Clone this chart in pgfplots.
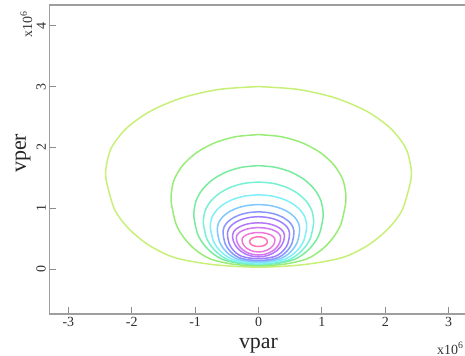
\documentclass[border=0pt]{standalone}
\usepackage{fontspec}
\setmainfont{Liberation Serif}
\usepackage{pgfplots}
\pgfplotsset{compat=1.18}

% contour colours, outermost level first
\definecolor{c1}{HTML}{C8F078}
\definecolor{c2}{HTML}{98EC78}
\definecolor{c3}{HTML}{78EC9C}
\definecolor{c4}{HTML}{78F0D4}
\definecolor{c5}{HTML}{80F0F8}
\definecolor{c6}{HTML}{80C8FF}
\definecolor{c7}{HTML}{8898FF}
\definecolor{c8}{HTML}{9C80FF}
\definecolor{c9}{HTML}{B478F8}
\definecolor{c10}{HTML}{D478F0}
\definecolor{c11}{HTML}{EC78DC}
\definecolor{c12}{HTML}{FF74B4}

\begin{document}
\begin{tikzpicture}
\begin{axis}[
  at={(49.3bp,42bp)}, anchor=south west,
  scale only axis, width=418.4bp, height=308.9bp,
  xmin=-3.3, xmax=3.3, ymin=-0.74, ymax=4.34,
  xtick={-3,-2,-1,0,1,2,3}, ytick={0,1,2,3,4},
  scaled ticks=false,
  tick pos=left, tick align=inside,
  major tick length=7bp,
  axis line style={draw=black!38, line width=1.3bp},
  every tick/.style={draw=black!45, line width=0.8bp},
  ticklabel style={font=\fontsize{14}{14}\selectfont, text=black!82},
  /pgf/number format/assume math mode=true,
  yticklabel style={rotate=90, anchor=south},
  xlabel={vpar}, ylabel={vper},
  label style={font=\fontsize{22}{22}\selectfont, text=black!85},
  xlabel style={at={(axis description cs:0.5,0)}, anchor=base, yshift=-34bp},
  ylabel style={at={(axis description cs:-0.056,0.52)}, anchor=base},
  every axis plot/.append style={line width=1.5bp, smooth, no marks},
]
% f(vpar, vper) contour levels
\addplot[c1] coordinates {(0,3.00) (-0.624,2.953) (-1.205,2.815) (-1.704,2.596) (-2.087,2.31) (-2.328,1.977) (-2.41,1.62) (-2.386,1.382) (-2.265,0.968) (-2.049,0.666) (-1.735,0.396) (-1.326,0.189) (-0.723,0.073) (0,0.03) (0.723,0.073) (1.326,0.189) (1.735,0.396) (2.049,0.666) (2.265,0.968) (2.386,1.382) (2.41,1.62) (2.328,1.977) (2.087,2.31) (1.704,2.596) (1.205,2.815) (0.624,2.953) (0,3.00)};
\addplot[c2] coordinates {(0,2.21) (-0.357,2.176) (-0.69,2.075) (-0.976,1.914) (-1.195,1.705) (-1.333,1.462) (-1.38,1.20) (-1.366,1.028) (-1.297,0.729) (-1.173,0.51) (-0.994,0.315) (-0.759,0.165) (-0.414,0.081) (0,0.05) (0.414,0.081) (0.759,0.165) (0.994,0.315) (1.173,0.51) (1.297,0.729) (1.366,1.028) (1.38,1.20) (1.333,1.462) (1.195,1.705) (0.976,1.914) (0.69,2.075) (0.357,2.176) (0,2.21)};
\addplot[c3] coordinates {(0,1.70) (-0.264,1.673) (-0.51,1.595) (-0.721,1.471) (-0.883,1.31) (-0.985,1.122) (-1.02,0.92) (-1.01,0.793) (-0.959,0.572) (-0.867,0.41) (-0.734,0.266) (-0.561,0.155) (-0.306,0.093) (0,0.07) (0.306,0.093) (0.561,0.155) (0.734,0.266) (0.867,0.41) (0.959,0.572) (1.01,0.793) (1.02,0.92) (0.985,1.122) (0.883,1.31) (0.721,1.471) (0.51,1.595) (0.264,1.673) (0,1.70)};
\addplot[c4] coordinates {(0,1.43) (-0.225,1.409) (-0.435,1.346) (-0.615,1.245) (-0.753,1.115) (-0.84,0.963) (-0.87,0.80) (-0.861,0.692) (-0.818,0.505) (-0.74,0.368) (-0.626,0.246) (-0.479,0.152) (-0.261,0.099) (0,0.08) (0.261,0.099) (0.479,0.152) (0.626,0.246) (0.74,0.368) (0.818,0.505) (0.861,0.692) (0.87,0.80) (0.84,0.963) (0.753,1.115) (0.615,1.245) (0.435,1.346) (0.225,1.409) (0,1.43)};
\addplot[c5] coordinates {(0,1.22) (-0.197,1.203) (-0.38,1.153) (-0.537,1.074) (-0.658,0.97) (-0.734,0.85) (-0.76,0.72) (-0.752,0.627) (-0.714,0.466) (-0.646,0.348) (-0.547,0.243) (-0.418,0.162) (-0.228,0.117) (0,0.10) (0.228,0.117) (0.418,0.162) (0.547,0.243) (0.646,0.348) (0.714,0.466) (0.752,0.627) (0.76,0.72) (0.734,0.85) (0.658,0.97) (0.537,1.074) (0.38,1.153) (0.197,1.203) (0,1.22)};
\addplot[c6] coordinates {(0,1.06) (-0.168,1.046) (-0.325,1.006) (-0.46,0.943) (-0.563,0.86) (-0.628,0.764) (-0.65,0.66) (-0.644,0.579) (-0.611,0.439) (-0.553,0.336) (-0.468,0.244) (-0.358,0.174) (-0.195,0.135) (0,0.12) (0.195,0.135) (0.358,0.174) (0.468,0.244) (0.553,0.336) (0.611,0.439) (0.644,0.579) (0.65,0.66) (0.628,0.764) (0.563,0.86) (0.46,0.943) (0.325,1.006) (0.168,1.046) (0,1.06)};
\addplot[c7] coordinates {(0,0.94) (-0.145,0.929) (-0.28,0.896) (-0.396,0.843) (-0.485,0.775) (-0.541,0.695) (-0.56,0.61) (-0.554,0.54) (-0.526,0.417) (-0.476,0.328) (-0.403,0.248) (-0.308,0.187) (-0.168,0.153) (0,0.14) (0.168,0.153) (0.308,0.187) (0.403,0.248) (0.476,0.328) (0.526,0.417) (0.554,0.54) (0.56,0.61) (0.541,0.695) (0.485,0.775) (0.396,0.843) (0.28,0.896) (0.145,0.929) (0,0.94)};
\addplot[c8] coordinates {(0,0.86) (-0.127,0.85) (-0.245,0.822) (-0.346,0.778) (-0.424,0.72) (-0.473,0.653) (-0.49,0.58) (-0.485,0.519) (-0.461,0.412) (-0.417,0.334) (-0.353,0.264) (-0.27,0.211) (-0.147,0.181) (0,0.17) (0.147,0.181) (0.27,0.211) (0.353,0.264) (0.417,0.334) (0.461,0.412) (0.485,0.519) (0.49,0.58) (0.473,0.653) (0.424,0.72) (0.346,0.778) (0.245,0.822) (0.127,0.85) (0,0.86)};
\addplot[c9] coordinates {(0,0.76) (-0.106,0.753) (-0.205,0.732) (-0.29,0.698) (-0.355,0.655) (-0.396,0.604) (-0.41,0.55) (-0.396,0.459) (-0.355,0.375) (-0.29,0.303) (-0.205,0.247) (-0.106,0.212) (0,0.20) (0.106,0.212) (0.205,0.247) (0.29,0.303) (0.355,0.375) (0.396,0.459) (0.41,0.55) (0.396,0.604) (0.355,0.655) (0.29,0.698) (0.205,0.732) (0.106,0.753) (0,0.76)};
\addplot[c10] coordinates {(0,0.68) (-0.091,0.675) (-0.175,0.659) (-0.247,0.633) (-0.303,0.60) (-0.338,0.561) (-0.35,0.52) (-0.338,0.445) (-0.303,0.375) (-0.247,0.315) (-0.175,0.269) (-0.091,0.24) (0,0.23) (0.091,0.24) (0.175,0.269) (0.247,0.315) (0.303,0.375) (0.338,0.445) (0.35,0.52) (0.338,0.561) (0.303,0.60) (0.247,0.633) (0.175,0.659) (0.091,0.675) (0,0.68)};
\addplot[c11] coordinates {(0,0.60) (-0.067,0.596) (-0.13,0.584) (-0.184,0.565) (-0.225,0.54) (-0.251,0.511) (-0.26,0.48) (-0.251,0.428) (-0.225,0.38) (-0.184,0.339) (-0.13,0.307) (-0.067,0.287) (0,0.28) (0.067,0.287) (0.13,0.307) (0.184,0.339) (0.225,0.38) (0.251,0.428) (0.26,0.48) (0.251,0.511) (0.225,0.54) (0.184,0.565) (0.13,0.584) (0.067,0.596) (0,0.60)};
\addplot[c12] coordinates {(0,0.53) (-0.036,0.527) (-0.07,0.519) (-0.099,0.507) (-0.121,0.49) (-0.135,0.471) (-0.14,0.45) (-0.135,0.429) (-0.121,0.41) (-0.099,0.393) (-0.07,0.381) (-0.036,0.373) (0,0.37) (0.036,0.373) (0.07,0.381) (0.099,0.393) (0.121,0.41) (0.135,0.429) (0.14,0.45) (0.135,0.471) (0.121,0.49) (0.099,0.507) (0.07,0.519) (0.036,0.527) (0,0.53)};
\end{axis}
% axis multipliers
\node[rotate=90, anchor=base west, inner sep=0pt, font=\fontsize{14}{14}\selectfont, text=black!80] at (32bp,318bp) {x10\textsuperscript{6}};
\node[anchor=base west, inner sep=0pt, font=\fontsize{14}{14}\selectfont, text=black!80] at (437bp,2bp) {x10\textsuperscript{6}};
\pgfresetboundingbox
\useasboundingbox (0,0) rectangle (465bp,356bp);
\end{tikzpicture}
\end{document}
